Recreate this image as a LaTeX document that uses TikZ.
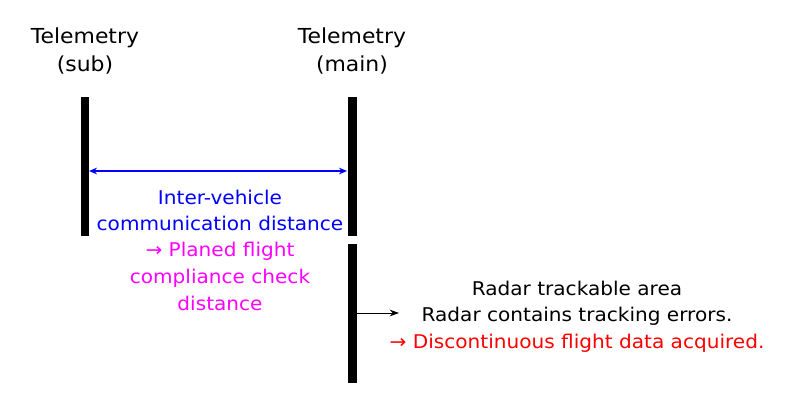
\documentclass[tikz,border=0pt]{standalone}
\usepackage{fontspec}
\setmainfont[FakeStretch=1.06]{DejaVu Sans}
\usetikzlibrary{arrows.meta}
\definecolor{cblue}{RGB}{0,0,255}
\definecolor{cmag}{RGB}{255,0,255}
\definecolor{cred}{RGB}{255,0,0}
\begin{document}
\begin{tikzpicture}[x=0.75pt,y=-0.75pt,
  bar/.style={fill=black,draw=none},
  lbl/.style={align=center,font=\fontsize{14.2}{20}\selectfont,inner sep=0pt},
  big/.style={align=center,font=\fontsize{15.5}{20.5}\selectfont,inner sep=0pt},
  blue1/.style={draw=cblue,line width=0.8pt,{Stealth[length=6pt,width=5pt]}-{Stealth[length=6pt,width=5pt]}},
  blk/.style={draw=black,line width=0.6pt,-{Stealth[length=7pt,width=5pt]}}]
\useasboundingbox (0,0) rectangle (800,401);
\fill[bar] (81,97) rectangle (89,236);
\fill[bar] (348,97) rectangle (357,236);
\fill[bar] (348,244) rectangle (357,383);
\coordinate (la) at (89,171);
\coordinate (ra) at (347,171);
\coordinate (ba) at (357,313);
\coordinate (bb) at (399,313);
\node[big] (tsub) at (85,51) {Telemetry\\(sub)};
\node[big] (tmain) at (352,51) {Telemetry\\(main)};
\draw[blue1] (la) -- (ra);
\node[lbl,text=cblue] (ivc) at (220,210.5) {Inter-vehicle\\communication distance};
\node[lbl,text=cmag] (plan) at (220,276.5) {→ Planed flight\\compliance check\\distance};
\draw[blk] (ba) -- (bb);
\node[lbl] (radar) at (577,316.5) {Radar trackable area\\Radar contains tracking errors.\\\color{cred}→ Discontinuous flight data acquired.};
\end{tikzpicture}
\end{document}
